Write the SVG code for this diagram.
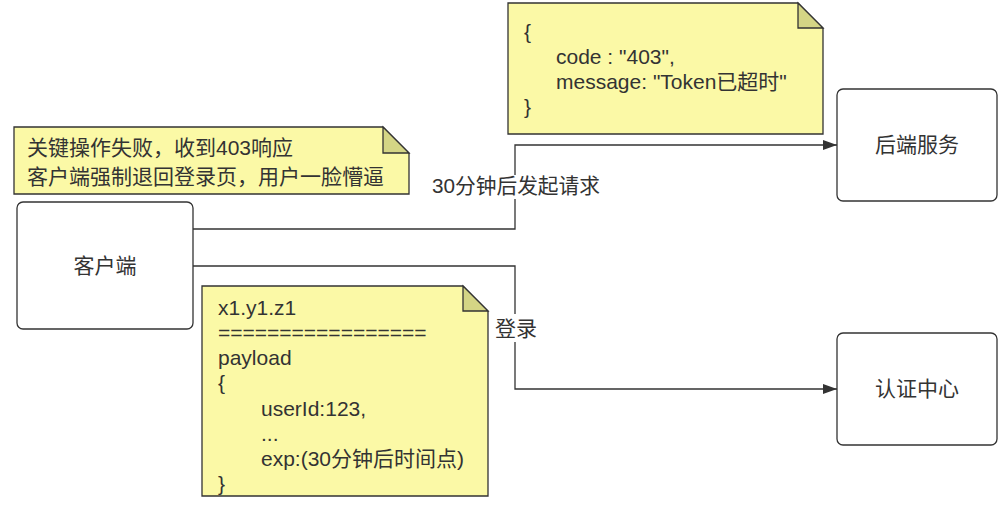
<svg xmlns="http://www.w3.org/2000/svg" width="1006" height="514" viewBox="0 0 1006 514">
  <style>
    text { font-family: "Liberation Sans", "Noto Sans CJK SC", sans-serif; font-size: 21px; fill: #333333; }
    .box { fill: #ffffff; stroke: #333333; stroke-width: 1.3; }
    .note { fill: #fbf9a6; stroke: #333333; stroke-width: 1.3; }
    .fold { fill: #d4d585; stroke: #333333; stroke-width: 1.3; stroke-linejoin: miter; }
    .edge { fill: none; stroke: #333333; stroke-width: 1.3; }
    .lbl { fill: #ffffff; stroke: none; }
  </style>
  <defs>
    <marker id="arrow" markerWidth="14" markerHeight="10" refX="14" refY="5" orient="auto" markerUnits="userSpaceOnUse">
      <path d="M0,0 L14,5 L0,10 Z" fill="#333333"/>
    </marker>
  </defs>

  <g id="connectors">
    <path class="edge" d="M193,229 H515 V145 H837" marker-end="url(#arrow)"/>
    <rect class="lbl" x="430" y="175" width="172" height="24"/>
    <text x="516" y="193" text-anchor="middle" textLength="168" lengthAdjust="spacingAndGlyphs">30分钟后发起请求</text>
    <path class="edge" d="M193,266 H515 V389 H837" marker-end="url(#arrow)"/>
    <rect class="lbl" x="494" y="314" width="45" height="28"/>
    <text x="516" y="336" text-anchor="middle">登录</text>
  </g>

  <g id="client">
    <rect class="box" x="17" y="202" width="176" height="127" rx="6"/>
    <text x="105" y="273" text-anchor="middle">客户端</text>
  </g>

  <g id="backend">
    <rect class="box" x="837" y="89" width="160" height="112" rx="6"/>
    <text x="917" y="152" text-anchor="middle">后端服务</text>
  </g>

  <g id="auth">
    <rect class="box" x="837" y="333" width="160" height="112" rx="6"/>
    <text x="917" y="396" text-anchor="middle">认证中心</text>
  </g>

  <g id="note-fail">
    <path class="note" d="M14,127 H383 L409,153 V194 H14 Z"/>
    <path class="fold" d="M383,127 V153 H409 Z"/>
    <text x="27" y="155">关键操作失败，收到403响应</text>
    <text x="27" y="184">客户端强制退回登录页，用户一脸懵逼</text>
  </g>

  <g id="note-response">
    <path class="note" d="M508,3 H798 L823,28 V134 H508 Z"/>
    <path class="fold" d="M798,3 V28 H823 Z"/>
    <text x="524" y="39">{</text>
    <text x="556" y="64">code : "403",</text>
    <text x="556" y="89">message: "Token已超时"</text>
    <text x="524" y="114">}</text>
  </g>

  <g id="note-token">
    <path class="note" d="M202,286 H463 L488,311 V496 H202 Z"/>
    <path class="fold" d="M463,286 V311 H488 Z"/>
    <text x="218" y="315">x1.y1.z1</text>
    <text x="218" y="340">=================</text>
    <text x="218" y="365">payload</text>
    <text x="218" y="390">{</text>
    <text x="261" y="416">userId:123,</text>
    <text x="261" y="441">...</text>
    <text x="261" y="466">exp:(30分钟后时间点)</text>
    <text x="218" y="491">}</text>
  </g>
</svg>
